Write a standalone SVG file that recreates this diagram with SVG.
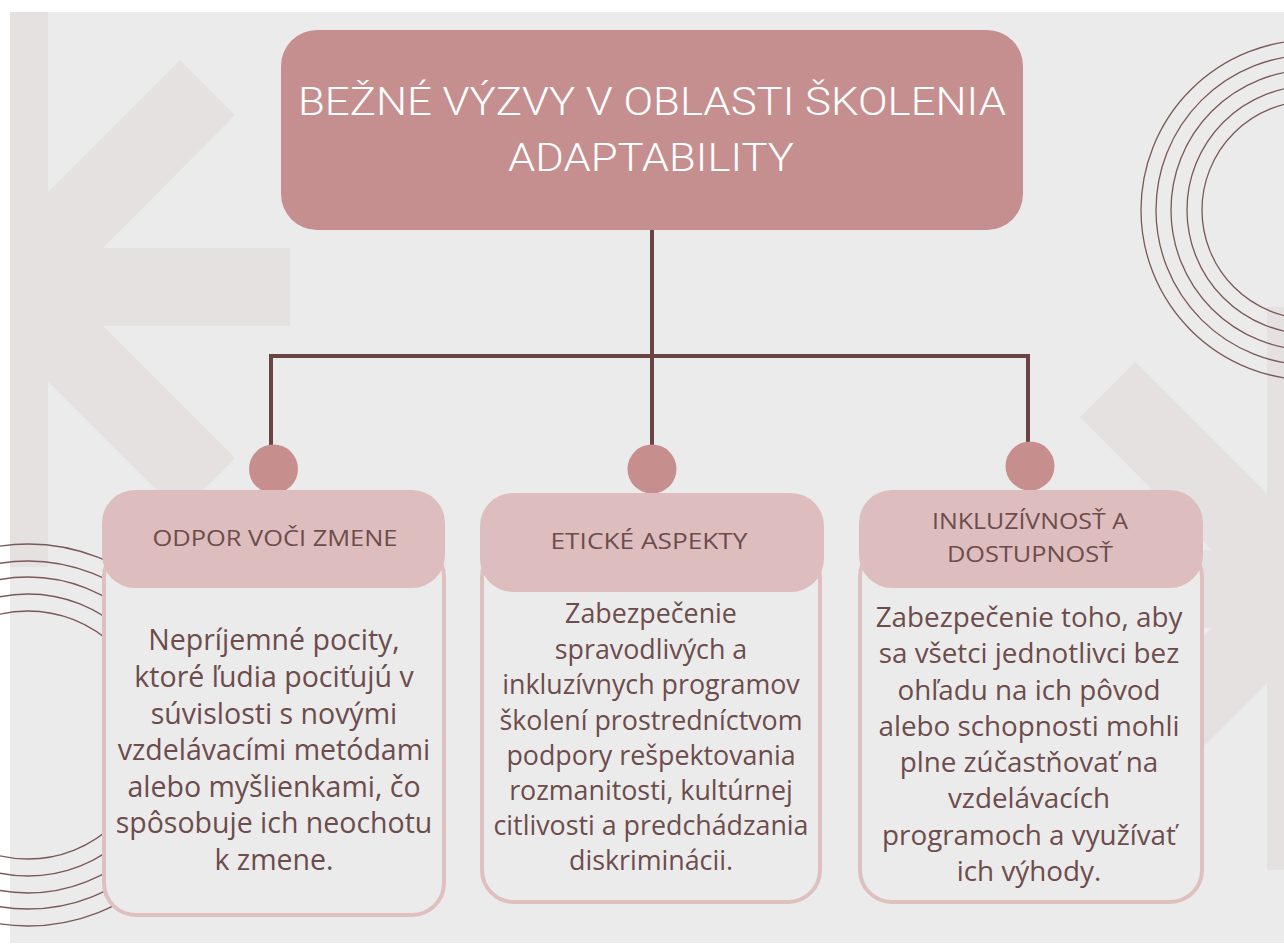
<svg xmlns="http://www.w3.org/2000/svg" width="1284" height="947" viewBox="0 0 1284 947">
<style>
.k{fill:#E5E1E1}
.ring{fill:none;stroke:#7A5858;stroke-width:1.3}
.conn{fill:none;stroke:#6A4343;stroke-width:4;stroke-linejoin:miter}
.dot{fill:#C78E8E}
.hdr{fill:#DDBDBD}
.body{fill:#EBEBEB;stroke:#DEC0C0;stroke-width:4}
.title{font-family:Roboto,"Liberation Sans",sans-serif;font-weight:300;font-size:38px;fill:#FFFFFF;text-anchor:middle}
.htxt{font-family:"Open Sans","Liberation Sans",sans-serif;font-size:22px;fill:#6D4C4C;text-anchor:middle}
.btxt{font-family:"Open Sans","Liberation Sans",sans-serif;fill:#6D4C4C;text-anchor:middle}
.b1{font-size:28.5px}
.b2{font-size:26.8px}
.b3{font-size:27.8px}
</style>
<rect x="0" y="0" width="1284" height="947" fill="#FFFFFF"/>
<rect x="10" y="12" width="1274" height="931" fill="#EBEBEB"/>
<g id="bg-left-k">
<rect class="k" x="10" y="12" width="38" height="555"/>
<polygon class="k" points="180,60 235,115 103,248 48,248 48,192"/>
<rect class="k" x="48" y="248" width="242" height="78"/>
<polygon class="k" points="103,326 235,458 180,513 48,381 48,326"/>
</g>
<g id="bg-right-k">
<rect class="k" x="1267" y="307" width="40" height="563"/>
<polygon class="k" points="1135,362 1080,417 1212,550 1267,550 1267,494"/>
<rect class="k" x="1025" y="550" width="242" height="78"/>
<polygon class="k" points="1212,628 1080,760 1135,815 1267,683 1267,628"/>
</g>
<g id="bg-rings-right">
<circle class="ring" cx="1311" cy="210" r="170"/>
<circle class="ring" cx="1311" cy="210" r="155"/>
<circle class="ring" cx="1311" cy="210" r="140"/>
<circle class="ring" cx="1311" cy="210" r="124"/>
<circle class="ring" cx="1311" cy="210" r="109"/>
</g>
<g id="bg-rings-left">
<circle class="ring" cx="28" cy="735" r="191"/>
<circle class="ring" cx="28" cy="735" r="174"/>
<circle class="ring" cx="28" cy="735" r="158"/>
<circle class="ring" cx="28" cy="735" r="141"/>
<circle class="ring" cx="28" cy="735" r="124"/>
</g>
<g id="connectors">
<path class="conn" d="M652 230 V356"/>
<path class="conn" d="M271 446 V356 H1028 V442"/>
<path class="conn" d="M652 356 V446"/>
</g>
<g id="title">
<rect x="281" y="30" width="742" height="200" rx="36" fill="#C68F8F"/>
<text class="title" x="652" y="115" textLength="708" lengthAdjust="spacingAndGlyphs">BEŽNÉ VÝZVY V OBLASTI ŠKOLENIA</text>
<text class="title" x="651" y="171" textLength="286" lengthAdjust="spacingAndGlyphs">ADAPTABILITY</text>
</g>
<g id="card-odpor">
<circle class="dot" cx="273.5" cy="469" r="24.5"/>
<rect class="body" x="104" y="545" width="340" height="370" rx="32"/>
<rect class="hdr" x="102" y="490" width="343" height="98" rx="33"/>
<text class="htxt" x="275" y="546" textLength="245" lengthAdjust="spacingAndGlyphs">ODPOR VOČI ZMENE</text>
<text class="btxt b1" x="274" y="650">Nepríjemné pocity,</text>
<text class="btxt b1" x="274" y="687">ktoré ľudia pociťujú v</text>
<text class="btxt b1" x="274" y="724">súvislosti s novými</text>
<text class="btxt b1" x="274" y="760">vzdelávacími metódami</text>
<text class="btxt b1" x="274" y="797">alebo myšlienkami, čo</text>
<text class="btxt b1" x="274" y="833">spôsobuje ich neochotu</text>
<text class="btxt b1" x="274" y="870">k zmene.</text>
</g>
<g id="card-eticke">
<circle class="dot" cx="652" cy="469" r="24.5"/>
<rect class="body" x="482" y="545" width="338" height="357" rx="32"/>
<rect class="hdr" x="480" y="493" width="344" height="99" rx="33"/>
<text class="htxt" x="649" y="549" textLength="197" lengthAdjust="spacingAndGlyphs">ETICKÉ ASPEKTY</text>
<text class="btxt b2" x="651" y="623">Zabezpečenie</text>
<text class="btxt b2" x="651" y="659">spravodlivých a</text>
<text class="btxt b2" x="651" y="694">inkluzívnych programov</text>
<text class="btxt b2" x="651" y="730">školení prostredníctvom</text>
<text class="btxt b2" x="651" y="765">podpory rešpektovania</text>
<text class="btxt b2" x="651" y="800">rozmanitosti, kultúrnej</text>
<text class="btxt b2" x="651" y="835">citlivosti a predchádzania</text>
<text class="btxt b2" x="651" y="870">diskriminácii.</text>
</g>
<g id="card-inkluzivnost">
<circle class="dot" cx="1030" cy="466" r="24.5"/>
<rect class="body" x="860" y="545" width="342" height="357" rx="32"/>
<rect class="hdr" x="859" y="490" width="344" height="98" rx="33"/>
<text class="htxt" x="1030" y="529" textLength="196" lengthAdjust="spacingAndGlyphs">INKLUZÍVNOSŤ A</text>
<text class="htxt" x="1030" y="562" textLength="166" lengthAdjust="spacingAndGlyphs">DOSTUPNOSŤ</text>
<text class="btxt b3" x="1029" y="627">Zabezpečenie toho, aby</text>
<text class="btxt b3" x="1029" y="663">sa všetci jednotlivci bez</text>
<text class="btxt b3" x="1029" y="700">ohľadu na ich pôvod</text>
<text class="btxt b3" x="1029" y="736">alebo schopnosti mohli</text>
<text class="btxt b3" x="1029" y="772">plne zúčastňovať na</text>
<text class="btxt b3" x="1029" y="808">vzdelávacích</text>
<text class="btxt b3" x="1029" y="845">programoch a využívať</text>
<text class="btxt b3" x="1029" y="881">ich výhody.</text>
</g>
</svg>
